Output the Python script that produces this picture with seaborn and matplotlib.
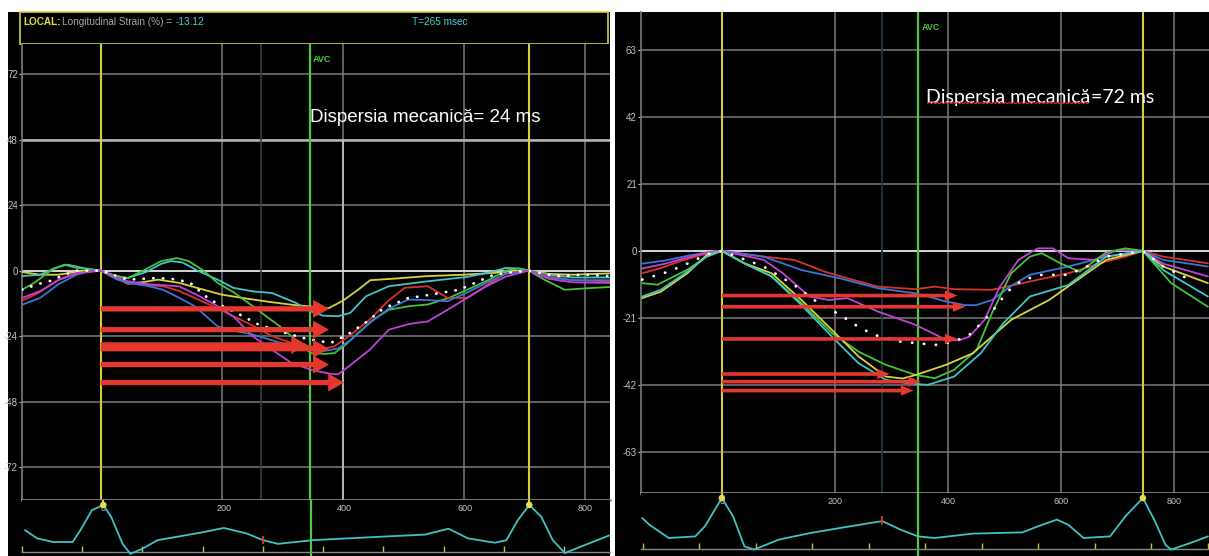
import numpy as np
import pandas as pd
import matplotlib
matplotlib.use("Agg")
import matplotlib.pyplot as plt
from matplotlib.patches import Rectangle
from matplotlib.lines import Line2D
from matplotlib.transforms import IdentityTransform
import seaborn as sns

# ---------------- Study A: segmental longitudinal strain (%) vs time (ms) ----------------
A_T_YELLOW = [-130, -100, -70, -40, -15, 0, 25, 45, 70, 95, 130, 170, 200, 240, 280, 320, 350, 376, 400, 425, 445, 480, 540, 600, 650, 690, 707, 740, 780, 840]
A_S_YELLOW = [-0.5, -1.5, -1.5, -0.5, 0.3, 0, -2.5, -4.8, -4.2, -3.3, -4.5, -7, -8.8, -10.2, -11.5, -12.6, -13.2, -13.8, -11, -7, -3.5, -3, -2, -1.5, -0.8, -0.2, 0, -1.2, -1.5, -1]
A_T_CYAN = [-130, -100, -75, -55, -30, 0, 25, 45, 75, 100, 116, 135, 160, 193, 219, 251, 283, 322, 347, 367, 392, 412, 438, 476, 540, 605, 637, 669, 690, 707, 740, 780, 840]
A_S_CYAN = [-2, -1.5, 1, 2.2, 1, 0, -2, -2.7, -0.5, 2.5, 3.5, 3, 0, -3.3, -6.3, -7.6, -8.2, -11.8, -14.9, -16.5, -16.7, -15.5, -9.4, -5.7, -3.9, -2.3, -0.9, 1, 0.8, 0, -1.5, -2.5, -2.5]
A_T_GREEN = [-130, -110, -80, -60, -40, 0, 25, 45, 70, 100, 126, 145, 170, 193, 220, 251, 275, 296, 320, 347, 370, 386, 405, 425, 450, 476, 510, 540, 575, 605, 640, 669, 690, 707, 730, 766, 800, 840]
A_S_GREEN = [-7, -4.5, 0.4, 2.2, 1, 0, -2, -2.7, 0, 3.5, 4.6, 3.5, 0, -4.5, -8, -13, -17, -20.4, -25, -30.2, -30.5, -30.2, -27, -22.8, -18, -14.3, -13, -12.4, -10, -7, -3.5, 0, 0.8, 0, -3, -7, -6.5, -6]
A_T_RED = [-130, -103, -70, -40, 0, 25, 45, 75, 103, 130, 155, 190, 219, 250, 283, 315, 347, 370, 386, 410, 444, 475, 502, 540, 573, 605, 640, 669, 707, 740, 780, 840]
A_S_RED = [-11, -8.2, -3.3, -0.9, 0, -3, -4.5, -5.3, -5.7, -7.5, -10, -13.5, -16.7, -20, -24, -26.5, -27.7, -28.5, -27.7, -24, -18, -11, -6.3, -5.7, -10, -10, -5, -1, 0, -2, -3.5, -4]
A_T_BLUE = [-130, -100, -70, -40, -15, 0, 25, 45, 75, 103, 130, 155, 193, 220, 251, 283, 315, 347, 367, 392, 415, 444, 475, 508, 540, 573, 605, 637, 669, 707, 740, 780, 840]
A_S_BLUE = [-12.5, -10, -5, -1.5, 0, 0, -3, -4.5, -5.5, -7, -10, -13, -20.4, -22, -23.4, -25.5, -27.7, -29.2, -29.5, -28.5, -25, -19.2, -14, -10.6, -10.8, -11.2, -8, -4.5, -1.2, 0, -2.5, -3.5, -3.5]
A_T_MAGENTA = [-130, -100, -70, -40, 0, 25, 45, 80, 129, 160, 193, 220, 251, 283, 315, 350, 380, 392, 410, 444, 476, 510, 540, 573, 605, 637, 669, 707, 740, 780, 840]
A_S_MAGENTA = [-10, -7.5, -3.5, -1, 0, -2.5, -3.9, -5, -5.7, -9, -13, -17, -24, -29, -33.8, -36.5, -37.8, -38, -35, -29, -21.6, -19.5, -18.6, -14.3, -10, -5.7, -2.2, 0, -3, -4.3, -4.5]
A_T_GLOBAL = [-130, -105, -85, -60, -40, 0, 45, 95, 125, 148, 164, 180, 196, 229, 261, 300, 340, 380, 396, 412, 428, 444, 460, 476, 495, 508, 528, 560, 592, 624, 643, 669, 707, 750, 800, 840]
A_S_GLOBAL = [-7, -5, -3.9, -1.5, 0, 0, -3.3, -2.7, -3.2, -4.5, -7.6, -10.6, -12.4, -16, -19.8, -22.5, -25, -26.5, -24.7, -22.8, -20.4, -18, -14.9, -13, -11.2, -10, -9.4, -8.2, -7, -3.9, -2, -0.8, 0, -2, -1.5, -2]
# time-to-peak arrows (end time in ms, strain level)
A_ARROW_END = [377, 377, 341, 377, 377, 402]
A_ARROW_LEVEL = [-14, -21.6, -27.2, -28.6, -34.4, -41]
# ECG trace
A_ECG_T = [-130, -110, -83, -51, -38, -19, 0, 13, 32, 45, 65, 90, 122, 167, 200, 238, 265, 290, 348, 444, 534, 573, 605, 650, 669, 688, 707, 727, 746, 766, 798, 840]
A_ECG_V = [0.32, 0.1, 0, 0, 0.32, 0.86, 1.0, 0.68, -0.05, -0.32, -0.18, 0.05, 0.14, 0.27, 0.38, 0.23, 0.05, -0.05, 0.05, 0.13, 0.2, 0.36, 0.1, -0.02, 0.05, 0.59, 1.0, 0.68, 0.05, -0.3, -0.09, 0.18]
A_RPEAKS = [0, 707]
A_AVC = 345
A_TMARK = 265
A_YTICKS = [-72, -48, -24, 0, 24, 48, 72]

# ---------------- Study B ----------------
B_T_RED = [-141, -110, -70, -30, 0, 74, 128, 182, 229, 276, 343, 377, 411, 478, 545, 613, 680, 714, 745, 781, 860]
B_S_RED = [-7, -5.5, -3, -1, 0, -1.8, -2.8, -6.5, -8.9, -11.2, -12, -11.2, -12, -12.2, -9.6, -7, -3.3, -1.8, 0, -1.8, -3.9]
B_T_BLUE = [-141, -100, -60, -20, 0, 74, 141, 209, 276, 343, 370, 397, 430, 450, 478, 512, 545, 613, 680, 745, 781, 860]
B_S_BLUE = [-4, -3, -1.5, -0.3, 0, -1.8, -6, -8.6, -11.7, -13.3, -14.5, -15.9, -17, -17, -15.4, -11, -7.5, -4.9, -1.8, 0, -2.8, -4.9]
B_T_MAGENTA = [-141, -100, -60, -20, 0, 74, 108, 155, 189, 222, 276, 343, 397, 420, 438, 465, 492, 525, 559, 586, 613, 660, 700, 745, 781, 860]
B_S_MAGENTA = [-5.5, -4, -2, -0.3, 0, -2.8, -7, -14.3, -15.4, -14.8, -19, -23.2, -27.9, -28, -26.9, -21.6, -11.2, -2.8, 0.8, 0.8, -2.3, -2.8, 0.3, 0, -4, -8]
B_T_GREEN = [-141, -114, -61, -27, 0, 40, 88, 141, 195, 242, 290, 343, 377, 411, 451, 478, 512, 545, 566, 599, 633, 680, 714, 745, 795, 860]
B_S_GREEN = [-10.1, -10.6, -5.9, -1.8, 0, -3.9, -8, -16.4, -25.8, -31.6, -35.7, -38.9, -39.9, -37.3, -31, -19.5, -7, -1.8, -0.7, -3.9, -6.5, -0.5, 0.8, 0, -10.1, -17.5]
B_T_YELLOW = [-141, -108, -61, -27, 0, 40, 88, 141, 195, 242, 290, 320, 343, 397, 444, 512, 579, 646, 680, 745, 781, 860]
B_S_YELLOW = [-14.8, -12.8, -7, -1.3, 0, -3.9, -7, -15.4, -24.8, -33.1, -39.4, -40, -38.9, -35.7, -32.1, -21.6, -15.4, -7, -2.8, 0, -4.9, -10.1]
B_T_CYAN = [-141, -108, -61, -27, 0, 40, 88, 141, 195, 242, 290, 330, 364, 411, 458, 498, 545, 613, 680, 745, 781, 860]
B_S_CYAN = [-14.3, -12.2, -6.5, -1.8, 0, -3.9, -8, -17, -26.9, -35.2, -40.4, -41.5, -42, -39.4, -32.1, -22.7, -14.3, -10.7, -1.8, 0, -6, -14.3]
B_T_GLOBAL = [-141, -94, -60, -25, 0, 27, 74, 128, 175, 209, 236, 269, 316, 377, 411, 438, 465, 485, 505, 532, 566, 613, 646, 680, 745, 781, 828]
B_S_GLOBAL = [-9, -6.5, -3.9, -1, 0, -1.8, -4.9, -10.7, -16.9, -20, -23.2, -26.3, -28.4, -29.5, -28.4, -26.3, -21.6, -17.5, -12.8, -9.1, -7.5, -7.5, -4.9, -1.8, 0, -4.9, -9]
B_ARROW_END = [417, 431, 417, 297, 352, 339]
B_ARROW_LEVEL = [-14, -17.5, -27.6, -38.6, -41, -43.8]
B_ECG_T = [-141, -128, -94, -47, -30, 0, 20, 40, 57, 101, 155, 209, 269, 284, 316, 347, 377, 444, 532, 559, 593, 613, 640, 687, 714, 745, 765, 785, 795, 830, 860]
B_ECG_V = [0.5, 0.33, 0, 0.04, 0.29, 1.0, 0.54, -0.21, -0.29, -0.04, 0.12, 0.25, 0.39, 0.42, 0.21, 0.04, 0, 0.11, 0.14, 0.29, 0.46, 0.33, 0, 0.04, 0.54, 1.0, 0.46, -0.17, -0.29, -0.12, 0.04]
B_RPEAKS = [0, 745]
B_AVC = 347
B_TMARK = 284
B_YTICKS = [-63, -42, -21, 0, 21, 42, 63]

TIME_LABELS = [0, 200, 400, 600, 800]

SEG_COLORS = {"yellow": "#d6d43c", "cyan": "#3ec6c8", "green": "#48c23a",
              "red": "#d8322c", "blue": "#3c74d8", "magenta": "#c042d8"}
YEL = "#d2d040"
AVC_GREEN = "#4ec83c"
GRID = "#7a7a7a"
TICKLAB = "#c2c2c2"
ARROW_RED = "#e4372d"
ECG_COL = "#3ec4c4"

W, H, DPI = 1209, 556, 100
sns.set_theme(style="dark")
plt.rcParams["font.family"] = ["Liberation Sans", "DejaVu Sans"]

fig = plt.figure(figsize=(W / DPI, H / DPI), dpi=DPI, facecolor="white")


def rect(x0, y0, x1, y1):
    return [x0 / W, 1 - y1 / H, (x1 - x0) / W, (y1 - y0) / H]


def backdrop(x0, y0, x1, y1, **kw):
    fig.patches.append(Rectangle((x0 / W, 1 - y1 / H), (x1 - x0) / W, (y1 - y0) / H,
                                 transform=fig.transFigure, **kw))


backdrop(8, 12, 610, 556, facecolor="black", edgecolor="none", zorder=-2)
backdrop(615, 12, 1209, 556, facecolor="black", edgecolor="none", zorder=-2)
backdrop(20, 12, 608, 44, facecolor="black", edgecolor=YEL, lw=1.2, zorder=-1)


def long_frame(series):
    return pd.concat([pd.DataFrame({"t": t, "strain": s, "segment": name})
                      for name, (t, s) in series.items()], ignore_index=True)


def strain_panel(ax, df, g_t, g_s, xlim, ylim, yticks, rpeaks, avc, tmark, tcol,
                 arrow_end, arrow_lvl, arrow_size, dots):
    ax.set_facecolor("black")
    ax.set_xlim(xlim)
    ax.set_ylim(ylim)
    ax.set_yticks(yticks)
    ax.set_yticklabels([str(v) for v in yticks])
    ax.set_xticks(TIME_LABELS[1:])
    ax.tick_params(axis="x", bottom=False, labelbottom=False)
    ax.tick_params(axis="y", left=True, colors=TICKLAB, labelsize=7, length=2.5, width=0.8, pad=0.5)
    ax.grid(True, color=GRID, lw=1.1, zorder=1)
    ax.set_axisbelow(True)
    for side in ("top", "right"):
        ax.spines[side].set_visible(False)
    ax.spines["left"].set_color(GRID)
    ax.spines["left"].set_linewidth(1.2)
    ax.spines["bottom"].set_color("#9c9c9c")
    ax.spines["bottom"].set_linewidth(1.8)
    ax.axhline(0, color="#dedede", lw=1.3, zorder=1.5)
    ax.axvline(tmark, color=tcol, lw=1.2, zorder=1.5)
    for r in rpeaks:
        ax.axvline(r, color=YEL, lw=1.5, zorder=2)
    ax.axvline(avc, color=AVC_GREEN, lw=1.6, zorder=2)

    sns.lineplot(data=df, x="t", y="strain", hue="segment", palette=SEG_COLORS,
                 estimator=None, sort=False, lw=1.3, legend=False, ax=ax, zorder=3)
    sns.lineplot(x=g_t, y=g_s, color="white", lw=2.0, linestyle=(0, dots),
                 dash_capstyle="round", estimator=None, sort=False, ax=ax, zorder=3)

    hl, hw, tw = arrow_size
    for end, lvl in zip(arrow_end, arrow_lvl):
        ax.annotate("", xy=(end, lvl), xytext=(rpeaks[0], lvl),
                    arrowprops=dict(arrowstyle=f"simple,head_length={hl},head_width={hw},tail_width={tw}",
                                    color=ARROW_RED, lw=0, shrinkA=0, shrinkB=0, mutation_scale=1),
                    zorder=5)
    ax.set_xlabel("")
    ax.set_ylabel("")
    ax.annotate("AVC", xy=(avc, 1), xycoords=("data", "axes fraction"), xytext=(2.5, -11.5),
                textcoords="offset points", color=AVC_GREEN, fontsize=6.5, fontweight="bold",
                ha="left", va="center", family=["Liberation Sans Narrow", "Liberation Sans"])


def ecg_panel(ax, ecg_t, ecg_v, xlim, ylim, base, rpeaks, avc, tmark, tick0):
    ax.set_facecolor("black")
    ax.set_xlim(xlim)
    ax.set_ylim(ylim)
    ax.grid(False)
    ax.set_yticks([])
    ax.set_xticks(TIME_LABELS)
    ax.set_xticks(np.arange(tick0, xlim[1], 100), minor=True)
    ax.tick_params(axis="x", which="major", bottom=False, top=False, labelbottom=False,
                   labeltop=True, labelcolor="#c4c4c4", labelsize=6.5, length=0, pad=-9.5)
    ax.tick_params(axis="x", which="minor", bottom=True, top=False, direction="in",
                   color="#c8c43c", length=4, width=1)
    for side in ("top", "left", "right"):
        ax.spines[side].set_visible(False)
    ax.spines["bottom"].set_position(("data", base))
    ax.spines["bottom"].set_color("#8a8a8a")
    ax.spines["bottom"].set_linewidth(1.0)

    ax.axvline(avc, color=AVC_GREEN, lw=1.6, zorder=2)
    sns.lineplot(x=ecg_t, y=ecg_v, color=ECG_COL, lw=1.3, estimator=None, sort=False, ax=ax, zorder=3)
    peak_v = np.interp(rpeaks, ecg_t, ecg_v)
    ax.vlines(rpeaks, peak_v, ylim[1], color=YEL, lw=1.5, zorder=2)
    tv = np.interp(tmark, ecg_t, ecg_v)
    ax.vlines([tmark], tv - 0.1, tv + 0.12, color="#e03030", lw=1.3, zorder=4)
    sns.scatterplot(x=rpeaks, y=peak_v, color="#e4e04a", s=22, edgecolor="none", ax=ax, zorder=5, legend=False)
    ax.set_xlabel("")
    ax.set_ylabel("")


# ---------- Study A ----------
a_df = long_frame({"yellow": (A_T_YELLOW, A_S_YELLOW), "cyan": (A_T_CYAN, A_S_CYAN),
                   "green": (A_T_GREEN, A_S_GREEN), "red": (A_T_RED, A_S_RED),
                   "blue": (A_T_BLUE, A_S_BLUE), "magenta": (A_T_MAGENTA, A_S_MAGENTA)})
a_xlim = (-130, 841)
a_ylim = (-84, 83)
ax_a = fig.add_axes(rect(22, 44, 610, 500))
strain_panel(ax_a, a_df, A_T_GLOBAL, A_S_GLOBAL, a_xlim, a_ylim, A_YTICKS, A_RPEAKS,
             A_AVC, A_TMARK, "#3c3c3c", A_ARROW_END, A_ARROW_LEVEL, (11.5, 13.0, 3.8), (0.1, 3.4))
# the 48 % reference line and the 400 ms line below it are drawn brighter on this display
ax_a.axhline(A_YTICKS[-2], color="#b4b4b4", lw=1.8, zorder=1.2)
ax_a.axvline(TIME_LABELS[2], ymin=0, ymax=(A_YTICKS[-2] - a_ylim[0]) / (a_ylim[1] - a_ylim[0]),
             color="#bdbdbd", lw=1.3, zorder=1.2)
ax_a_ecg = fig.add_axes(rect(22, 500, 610, 556))
ecg_panel(ax_a_ecg, A_ECG_T, A_ECG_V, a_xlim, (-0.378, 1.135), -0.27, A_RPEAKS, A_AVC, A_TMARK, A_TMARK - 400)
ax_a.text(A_AVC, 56, "Dispersia mecanică= 24 ms", color="white", fontsize=13.5,
          ha="left", va="center", zorder=6)

hdr = dict(fontsize=7.2, va="center", family=["Liberation Sans Narrow", "Liberation Sans"])
fig.text(23 / W, 1 - 22 / H, "LOCAL:", color="#e0dc40", fontweight="bold", **hdr)
fig.text(62 / W, 1 - 22 / H, "Longitudinal Strain (%) =", color="#a8a8a8", **hdr)
fig.text(176 / W, 1 - 22 / H, "-13.12", color="#46d2d2", **hdr)
fig.text(412 / W, 1 - 22 / H, "T=265 msec", color="#46d2d2", **hdr)

# ---------- Study B ----------
b_df = long_frame({"red": (B_T_RED, B_S_RED), "blue": (B_T_BLUE, B_S_BLUE),
                   "magenta": (B_T_MAGENTA, B_S_MAGENTA), "green": (B_T_GREEN, B_S_GREEN),
                   "yellow": (B_T_YELLOW, B_S_YELLOW), "cyan": (B_T_CYAN, B_S_CYAN)})
b_xlim = (-143, 862)
ax_b = fig.add_axes(rect(641, 12, 1209, 493))
strain_panel(ax_b, b_df, B_T_GLOBAL, B_S_GLOBAL, b_xlim, (-75.9, 74.9), B_YTICKS, B_RPEAKS,
             B_AVC, B_TMARK, "#1e3c44", B_ARROW_END, B_ARROW_LEVEL, (9.0, 7.5, 2.6), (0.1, 4.2))
ax_b_ecg = fig.add_axes(rect(641, 493, 1209, 556))
ecg_panel(ax_b_ecg, B_ECG_T, B_ECG_V, b_xlim, (-0.45, 1.125), -0.275, B_RPEAKS, B_AVC, B_TMARK, -140)

title_b = ax_b.text(362, 48, "Dispersia mecanică", color="white", fontsize=14,
                    ha="left", va="center", family=["Lato", "DejaVu Sans"], zorder=6)
ax_b.annotate("=72 ms", xy=(1, 0), xycoords=title_b, ha="left", va="bottom", color="white",
              fontsize=14, family=["Lato", "DejaVu Sans"], zorder=6)

# spell-check style wavy underline beneath the first words
fig.canvas.draw()
bb = title_b.get_window_extent()
xs = np.arange(bb.x0 + 1, bb.x1, 2.0)
ys = bb.y0 + 2.5 + (np.arange(xs.size) % 2) * 1.6
fig.add_artist(Line2D(xs, ys, transform=IdentityTransform(), color="#c83030", lw=0.8, zorder=7))

fig.savefig("out.png", dpi=DPI, facecolor="white")
